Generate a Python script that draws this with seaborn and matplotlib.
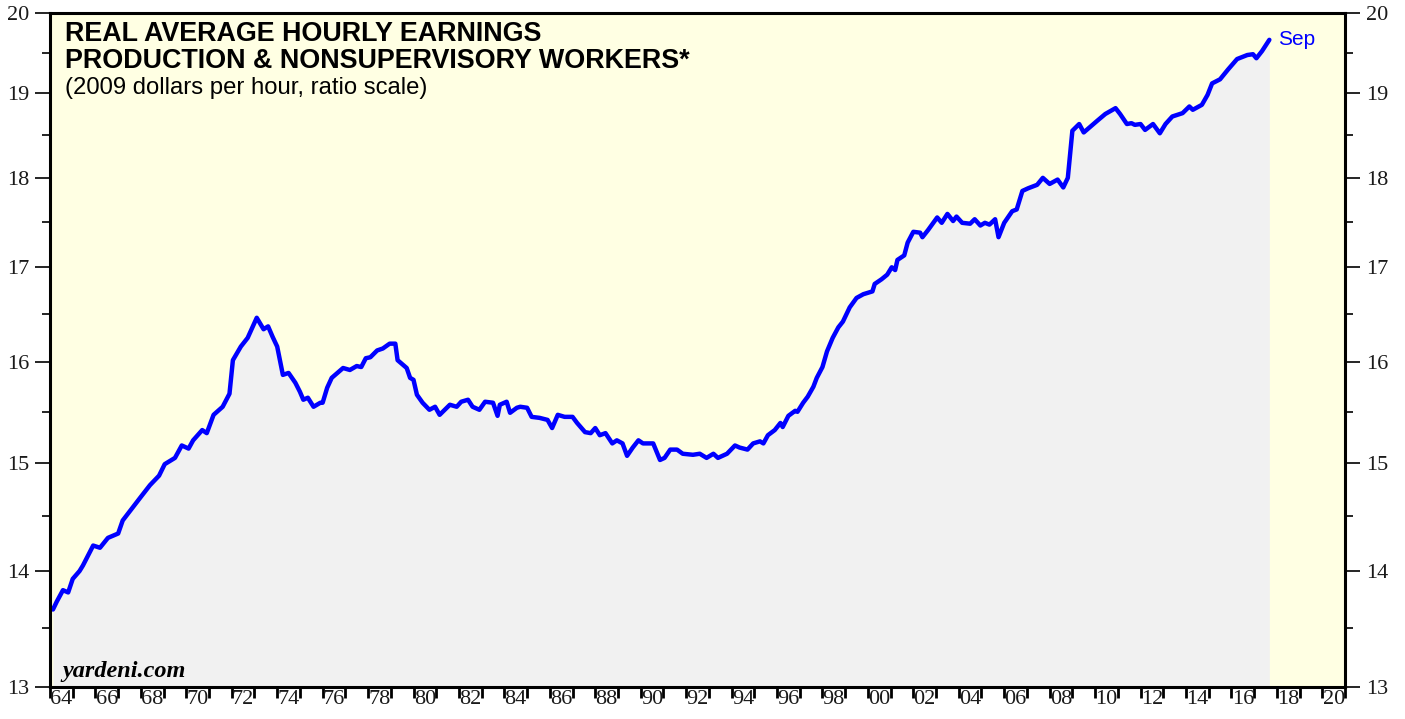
import matplotlib
matplotlib.use("Agg")
import matplotlib.pyplot as plt
import matplotlib.ticker as mticker
import seaborn as sns
import pandas as pd

# Real average hourly earnings, production & nonsupervisory workers (2009 $)
years = [
    1964.13, 1964.30, 1964.57, 1964.80, 1965.00, 1965.30, 1965.45, 1965.90, 1966.20, 1966.55,
    1967.00, 1967.20, 1967.60, 1968.00, 1968.40, 1968.80, 1969.05, 1969.50, 1969.80, 1970.10,
    1970.30, 1970.70, 1970.90, 1971.20, 1971.60, 1971.90, 1972.05, 1972.40, 1972.70, 1973.10,
    1973.40, 1973.60, 1973.80, 1974.00, 1974.25, 1974.50, 1974.80, 1975.00, 1975.15, 1975.35,
    1975.60, 1975.90, 1976.00, 1976.20, 1976.40, 1976.70, 1976.90, 1977.20, 1977.50, 1977.70,
    1977.90, 1978.10, 1978.40, 1978.65, 1978.95, 1979.20, 1979.30, 1979.70, 1979.85, 1980.00,
    1980.15, 1980.40, 1980.70, 1980.95, 1981.15, 1981.60, 1981.90, 1982.10, 1982.40, 1982.60,
    1982.90, 1983.15, 1983.50, 1983.70, 1983.80, 1984.10, 1984.25, 1984.55, 1984.70, 1985.00,
    1985.20, 1985.55, 1985.90, 1986.10, 1986.35, 1986.65, 1987.00, 1987.20, 1987.55, 1987.80,
    1988.00, 1988.20, 1988.45, 1988.75, 1988.95, 1989.20, 1989.40, 1989.65, 1989.90, 1990.10,
    1990.30, 1990.55, 1990.85, 1991.05, 1991.30, 1991.60, 1991.85, 1992.30, 1992.60, 1992.90,
    1993.20, 1993.40, 1993.80, 1994.15, 1994.35, 1994.70, 1994.95, 1995.25, 1995.40, 1995.60,
    1995.90, 1996.15, 1996.25, 1996.50, 1996.80, 1996.90, 1997.15, 1997.35, 1997.60, 1997.75,
    1998.00, 1998.20, 1998.45, 1998.70, 1998.90, 1999.20, 1999.50, 1999.80, 2000.20, 2000.30,
    2000.60, 2000.85, 2001.05, 2001.20, 2001.30, 2001.60, 2001.75, 2002.00, 2002.30, 2002.40,
    2002.65, 2003.05, 2003.25, 2003.50, 2003.75, 2003.90, 2004.15, 2004.50, 2004.70, 2004.95,
    2005.15, 2005.35, 2005.60, 2005.75, 2006.00, 2006.35, 2006.55, 2006.80, 2007.05, 2007.45,
    2007.70, 2008.00, 2008.35, 2008.60, 2008.80, 2009.00, 2009.30, 2009.50, 2009.80, 2010.10,
    2010.45, 2010.90, 2011.10, 2011.40, 2011.60, 2011.75, 2012.00, 2012.20, 2012.55, 2012.85,
    2013.10, 2013.40, 2013.85, 2014.15, 2014.30, 2014.70, 2014.95, 2015.15, 2015.50, 2015.85,
    2016.25, 2016.70, 2016.95, 2017.10, 2017.35, 2017.67,
]
earnings = [
    13.66, 13.73, 13.83, 13.81, 13.93, 14.00, 14.05, 14.23, 14.21, 14.30,
    14.34, 14.46, 14.57, 14.68, 14.79, 14.88, 14.99, 15.05, 15.17, 15.14,
    15.22, 15.32, 15.29, 15.47, 15.55, 15.68, 16.02, 16.16, 16.25, 16.46,
    16.34, 16.37, 16.26, 16.16, 15.87, 15.89, 15.79, 15.70, 15.62, 15.64,
    15.55, 15.59, 15.59, 15.74, 15.84, 15.90, 15.94, 15.92, 15.96, 15.95,
    16.04, 16.05, 16.12, 16.14, 16.19, 16.19, 16.02, 15.94, 15.84, 15.82,
    15.67, 15.59, 15.52, 15.55, 15.47, 15.57, 15.55, 15.60, 15.62, 15.55,
    15.52, 15.60, 15.59, 15.46, 15.57, 15.60, 15.49, 15.54, 15.55, 15.54,
    15.45, 15.44, 15.42, 15.34, 15.47, 15.45, 15.45, 15.39, 15.30, 15.29,
    15.34, 15.27, 15.29, 15.19, 15.22, 15.19, 15.07, 15.15, 15.22, 15.19,
    15.19, 15.19, 15.03, 15.05, 15.13, 15.13, 15.09, 15.08, 15.09, 15.05,
    15.09, 15.05, 15.09, 15.17, 15.15, 15.13, 15.19, 15.21, 15.19, 15.27,
    15.32, 15.39, 15.35, 15.46, 15.51, 15.50, 15.59, 15.65, 15.75, 15.84,
    15.95, 16.11, 16.25, 16.36, 16.42, 16.57, 16.67, 16.71, 16.74, 16.82,
    16.87, 16.92, 17.00, 16.97, 17.08, 17.13, 17.27, 17.39, 17.38, 17.33,
    17.41, 17.55, 17.49, 17.59, 17.51, 17.56, 17.49, 17.48, 17.53, 17.46,
    17.49, 17.47, 17.53, 17.33, 17.49, 17.62, 17.64, 17.85, 17.88, 17.92,
    18.00, 17.93, 17.98, 17.89, 18.00, 18.55, 18.63, 18.53, 18.60, 18.67,
    18.75, 18.82, 18.75, 18.63, 18.64, 18.62, 18.63, 18.56, 18.63, 18.52,
    18.63, 18.72, 18.76, 18.84, 18.80, 18.86, 18.98, 19.12, 19.17, 19.29,
    19.42, 19.47, 19.48, 19.43, 19.52, 19.66,
]

year_ticks = list(range(1964, 2022))
label_years = list(range(1964, 2021, 2))
label_text = [f"{y % 100:02d}" for y in label_years]
y_major = [13, 14, 15, 16, 17, 18, 19, 20]
y_minor = [13.5, 14.5, 15.5, 16.5, 17.5, 18.5, 19.5]

sns.set_style("ticks")
plt.rcParams['font.family'] = ['Liberation Sans', 'DejaVu Sans']
plt.rcParams['text.color'] = 'black'

df = pd.DataFrame({'year': years, 'earnings': earnings})

fig = plt.figure(figsize=(14.05, 7.19), dpi=100)
ax = fig.add_axes([50 / 1405, 1 - 687 / 719, 1295 / 1405, 674 / 719])
ax.set_facecolor('#FFFFE3')

ax.fill_between(df['year'], df['earnings'], 13, color='#F1F1F1', lw=0, zorder=1)
sns.lineplot(data=df, x='year', y='earnings', ax=ax, color='#0000FF', lw=3.2, zorder=3)

ax.set_yscale('log')
ax.set_ylim(13, 20)
ax.set_xlim(1964, 2021)
ax.set_xlabel('')
ax.set_ylabel('')

# y axis: ratio scale, labels on both sides
ax.yaxis.set_major_locator(mticker.FixedLocator(y_major))
ax.yaxis.set_major_formatter(mticker.FixedFormatter([str(v) for v in y_major]))
ax.yaxis.set_minor_locator(mticker.FixedLocator(y_minor))
ax.yaxis.set_minor_formatter(mticker.NullFormatter())
ax.tick_params(axis='y', which='both', left=True, right=True,
               labelleft=True, labelright=True, direction='out', color='black')
ax.tick_params(axis='y', which='major', length=11, width=1.2, pad=4,
               labelsize=16, labelfontfamily='Liberation Serif', labelcolor='#1a1a1a')
ax.tick_params(axis='y', which='minor', length=6, width=1.2)

# x axis: ticks at year boundaries, labels centred in even years
ax.set_xticks(year_ticks)
ax.set_xticklabels([])
ax.set_xticks([y + 0.5 for y in label_years], label_text, minor=True)
ax.tick_params(axis='x', which='major', length=8, width=2, direction='out', color='black')
ax.tick_params(axis='x', which='minor', length=0, pad=2, labelsize=16,
               labelfontfamily='Liberation Serif', labelcolor='#1a1a1a')

for s in ax.spines.values():
    s.set_visible(True)
    s.set_linewidth(2.2)
    s.set_color('black')
    s.set_zorder(5)

fig.text(65 / 1405, 1 - 41 / 719, 'REAL AVERAGE HOURLY EARNINGS',
         fontsize=19.4, fontweight='bold', va='baseline', ha='left', color='black')
fig.text(65 / 1405, 1 - 68 / 719, 'PRODUCTION & NONSUPERVISORY WORKERS*',
         fontsize=19.4, fontweight='bold', va='baseline', ha='left', color='black')
fig.text(65 / 1405, 1 - 94 / 719, '(2009 dollars per hour, ratio scale)',
         fontsize=17.2, va='baseline', ha='left', color='black')

ax.annotate('Sep', xy=(years[-1], earnings[-1]), xytext=(6, 0),
            textcoords='offset points', color='#0000FF', fontsize=15,
            va='center', ha='left')

fig.text(62 / 1405, 1 - 677 / 719, 'yardeni.com', family='Liberation Serif',
         fontweight='bold', style='italic', fontsize=17.5, va='baseline', ha='left',
         color='black')

fig.savefig('out.png', dpi=100)
